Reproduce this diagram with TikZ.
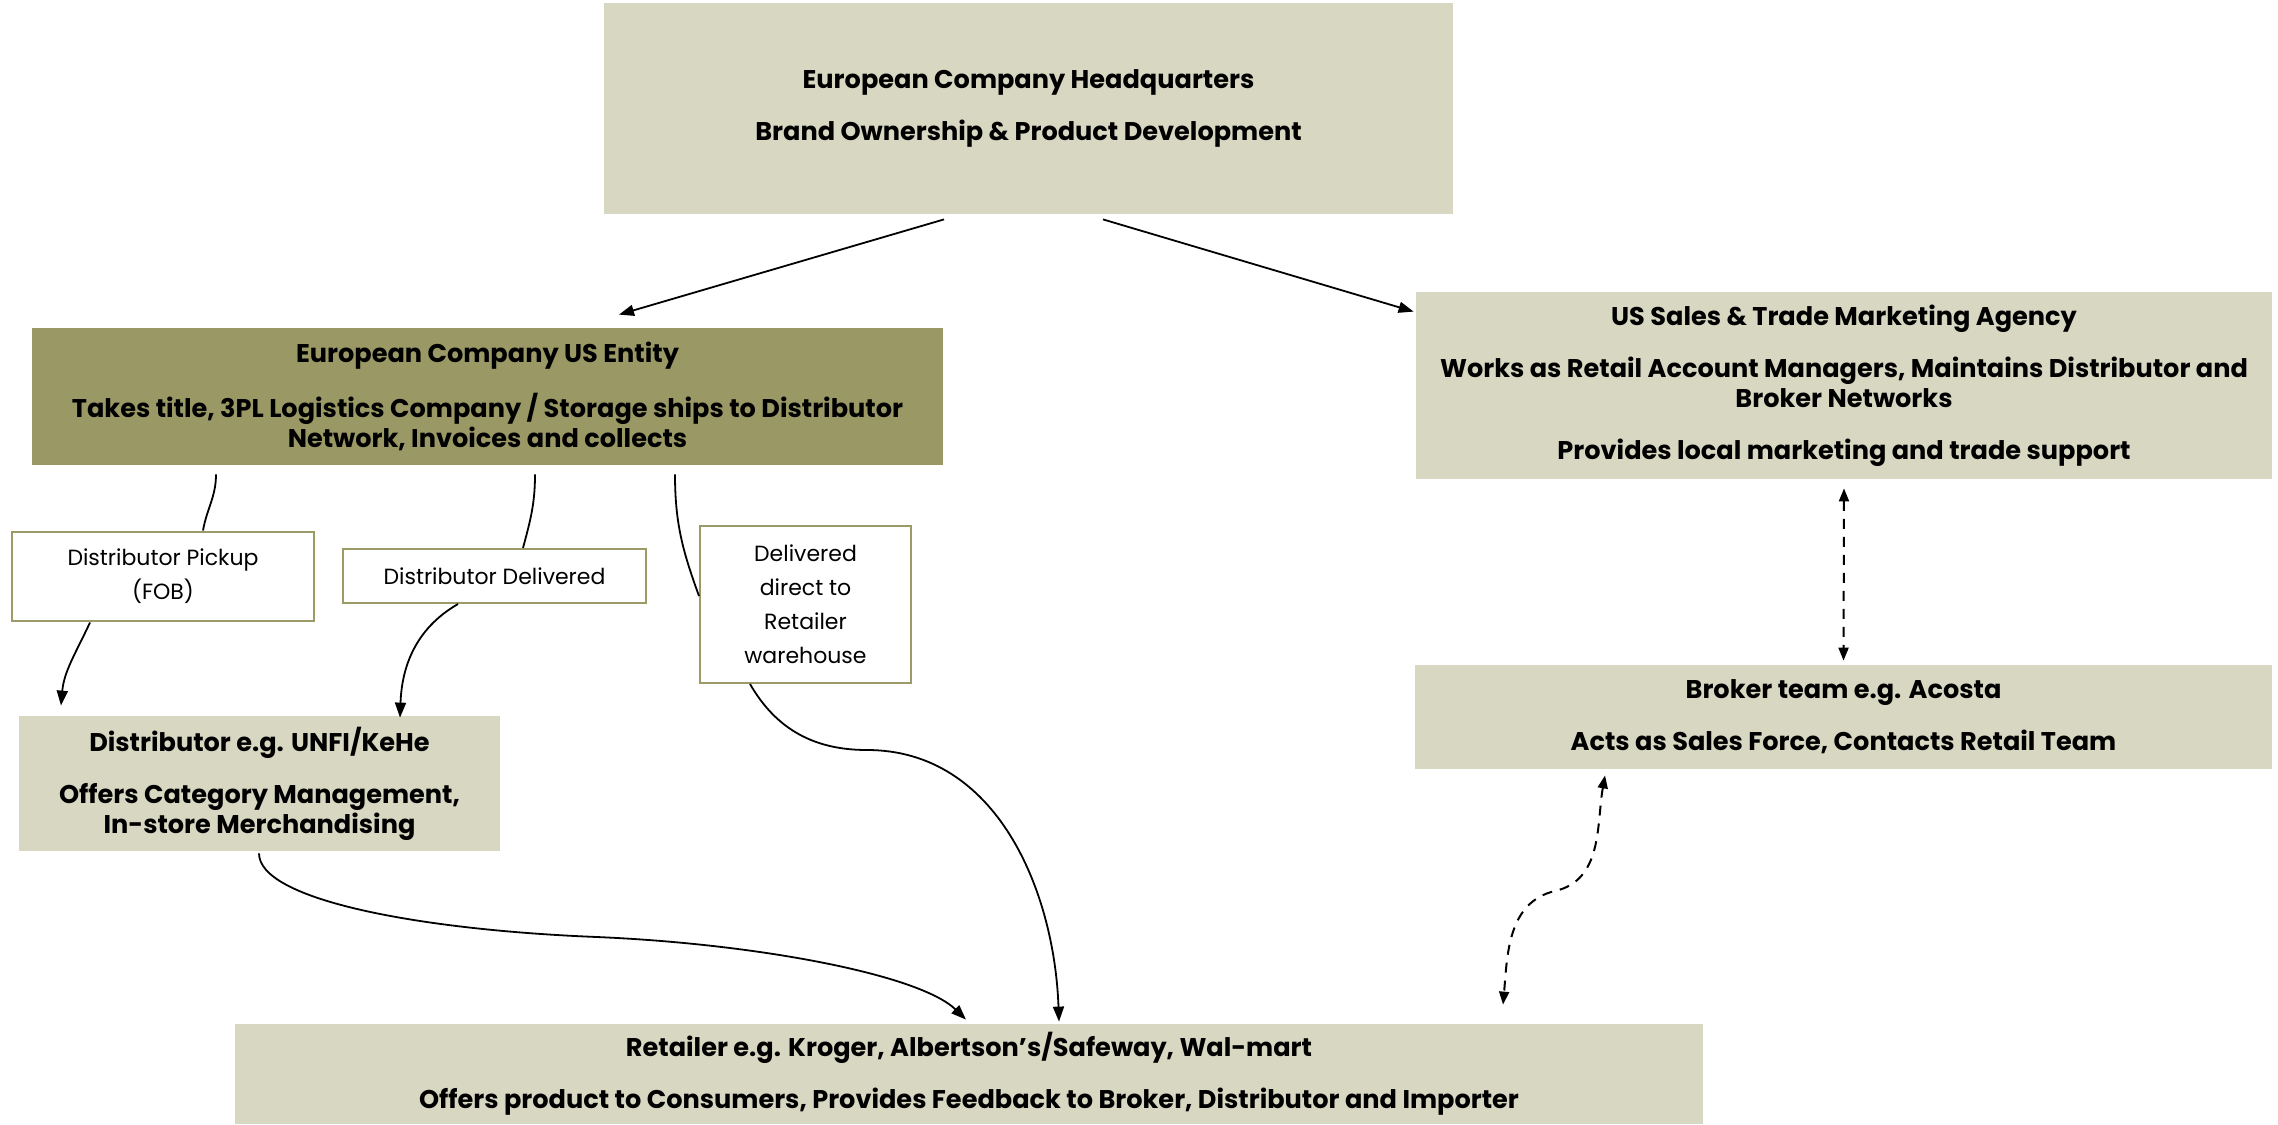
\documentclass[tikz,border=0pt]{standalone}
\usepackage{fontspec}
\setmainfont{Poppins}
\usetikzlibrary{arrows.meta,calc}
\definecolor{lightbox}{HTML}{D8D7C2}
\definecolor{darkbox}{HTML}{9A9865}
\definecolor{olive}{HTML}{9C9A66}
\begin{document}
\begin{tikzpicture}[x=0.5pt,y=-0.5pt,
  box/.style={fill=lightbox, draw=none, align=center, inner sep=0pt, font=\bfseries\fontsize{12.8}{15}\selectfont},
  darkbx/.style={box, fill=darkbox},
  lbl/.style={draw=olive, line width=1pt, fill=white, align=center, inner sep=0pt, font=\fontsize{11}{17}\selectfont},
  conn/.style={line width=0.9pt, -{Triangle[length=7.5pt,width=5.5pt]}},
  plain/.style={line width=0.9pt},
  dconn/.style={line width=1pt, dash pattern=on 5pt off 4pt, {Triangle[length=6.5pt,width=5pt]}-{Triangle[length=6.5pt,width=5pt]}}
]
\useasboundingbox (0,0) rectangle (2278,1124);

\node[box, minimum width=424.5pt, minimum height=105.5pt] (hq) at (1028.5,108.5)
  {European Company Headquarters\\[11pt]Brand Ownership \& Product Development};
\node[darkbx, minimum width=455.5pt, minimum height=68.5pt] (ent) at (487.5,396.5)
  {European Company US Entity\\[11pt]Takes title, 3PL Logistics Company / Storage ships to Distributor\\Network, Invoices and collects};
\node[box, minimum width=428pt, minimum height=93.5pt] (us) at (1844,385.5)
  {US Sales \& Trade Marketing Agency\\[11pt]Works as Retail Account Managers, Maintains Distributor and\\Broker Networks\\[11pt]Provides local marketing and trade support};
\node[box, minimum width=428.5pt, minimum height=52pt] (brk) at (1843.5,717)
  {Broker team e.g. Acosta\\[11pt]Acts as Sales Force, Contacts Retail Team};
\node[box, minimum width=240.5pt, minimum height=67.5pt] (dist) at (259.5,783.5)
  {Distributor e.g. UNFI/KeHe\\[11pt]Offers Category Management,\\In-store Merchandising};
\node[box, minimum width=734pt, minimum height=50pt] (ret) at (969,1074)
  {Retailer e.g. Kroger, Albertson’s/Safeway, Wal-mart\\[11pt]Offers product to Consumers, Provides Feedback to Broker, Distributor and Importer};

\node[lbl, minimum width=151pt, minimum height=44.5pt] (pick) at (163,576) {Distributor Pickup\\(FOB)};
\node[lbl, minimum width=151.5pt, minimum height=27pt] (deliv) at (494.5,576) {Distributor Delivered};
\node[lbl, minimum width=105.5pt, minimum height=78.5pt] (direct) at (805.5,604.5) {Delivered\\direct to\\Retailer\\warehouse};

\coordinate (m1) at (867,750);
\coordinate (m2) at (597,937);
\coordinate (m3) at (1555,891);

\draw[conn] ($(hq.south)+(-84.5,5)$) -- ($(ent.north)+(131.5,-13)$);
\draw[conn] ($(hq.south)+(74.5,5)$) -- ($(us.north west)+(-2,20)$);

\draw[plain] ($(ent.south)+(-271.5,9)$) to[out=-90,in=80] ($(pick.north)+(40,0)$);
\draw[conn] ($(pick.south)+(-73,1)$) to[out=-115,in=85] ($(dist.north)+(-198.5,-10)$);

\draw[plain] ($(ent.south)+(47.5,9)$) to[out=-90,in=75] ($(deliv.north)+(28.5,0)$);
\draw[conn] ($(deliv.south)+(-36.5,0)$) to[out=-150,in=88] ($(dist.north)+(140.5,2)$);

\draw[plain] ($(ent.south)+(187.5,9)$) to[out=-90,in=110] ($(direct.west)+(0,-8.5)$);
\draw[conn] ($(direct.south)+(-55.5,0)$) to[out=-60,in=180] (m1) to[out=0,in=92] ($(ret.north)+(90,-2)$);

\draw[conn] ($(dist.south)+(-0.5,2)$) .. controls (259,900) and (420,930) .. (m2)
  .. controls (760,944) and (920,975) .. ($(ret.north)+(-3,-4)$);

\draw[dconn] ($(us.south)+(0,9)$) -- ($(brk.north)+(0,-4)$);
\draw[dconn] ($(brk.south)+(-238.5,6)$) to[out=-100,in=13] (m3) to[out=-167,in=85] ($(ret.north)+(534,-19)$);
\end{tikzpicture}
\end{document}
